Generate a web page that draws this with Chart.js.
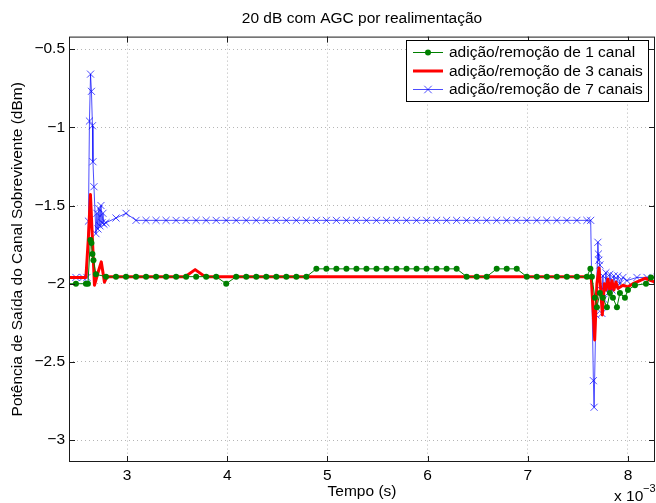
<!DOCTYPE html>
<html>
<head>
<meta charset="utf-8">
<script src="https://cdn.jsdelivr.net/npm/chart.js@4.4.1/dist/chart.umd.min.js"></script>
<style>
  html, body { margin: 0; padding: 0; background: #fff; }
  #wrap { width: 656px; height: 503px; }
</style>
</head>
<body>
<div id="wrap"><canvas id="myChart" width="656" height="503"></canvas></div>
<script>
// tick values (x in units of 1e-3 s)
var xTicks = [3, 4, 5, 6, 7, 8];
var yTicks = [-3, -2.5, -2, -1.5, -1, -0.5];

var seriesLabels = ['adição/remoção de 1 canal', 'adição/remoção de 3 canais', 'adição/remoção de 7 canais'];

// 1 canal
var greenTime = [2.39, 2.49, 2.59, 2.61, 2.635, 2.645, 2.655, 2.665, 2.69, 2.79,
    2.89, 2.99, 3.09, 3.19, 3.29, 3.39, 3.49, 3.59, 3.69, 3.79, 3.89,
    3.99,
    4.09, 4.19, 4.29, 4.39, 4.49, 4.59, 4.69, 4.79,
    4.89, 4.99, 5.09, 5.19, 5.29, 5.39, 5.49, 5.59, 5.69, 5.79, 5.89, 5.99, 6.09, 6.19, 6.29,
    6.39, 6.49, 6.59,
    6.69, 6.79, 6.89,
    6.99, 7.09, 7.19, 7.29, 7.39, 7.49, 7.59,
    7.625, 7.64, 7.67, 7.69, 7.72, 7.75, 7.79, 7.82, 7.85, 7.89, 7.92, 7.97, 8.00, 8.07, 8.18, 8.23, 8.33];
var greenPower = [-2.0, -2.0, -2.0, -2.0, -1.72, -1.74, -1.81, -1.85, -1.94, -1.955,
    -1.955, -1.955, -1.955, -1.955, -1.955, -1.955, -1.955, -1.955, -1.955, -1.955, -1.955,
    -2.0,
    -1.955, -1.955, -1.955, -1.955, -1.955, -1.955, -1.955, -1.955,
    -1.905, -1.905, -1.905, -1.905, -1.905, -1.905, -1.905, -1.905, -1.905, -1.905, -1.905, -1.905, -1.905, -1.905, -1.905,
    -1.955, -1.955, -1.955,
    -1.905, -1.905, -1.905,
    -1.955, -1.955, -1.955, -1.955, -1.955, -1.955, -1.955,
    -1.905, -1.955, -2.09, -2.15, -2.06, -2.09, -2.15, -2.06, -2.09, -2.15, -2.06, -2.09, -2.04, -2.01, -2.0, -1.96, -1.96];

// 3 canais
var redTime = [2.39, 2.59, 2.615, 2.635, 2.655, 2.675, 2.71, 2.743, 2.775, 2.80,
    3.58, 3.68, 3.78,
    7.61, 7.635, 7.668, 7.69, 7.711, 7.73, 7.744, 7.765, 7.78, 7.80, 7.82, 7.84, 7.86, 7.88, 7.90,
    7.95, 8.00, 8.05, 8.12, 8.17, 8.27, 8.35];
var redPower = [-1.96, -1.96, -1.7, -1.43, -1.72, -2.01, -1.93, -1.86, -1.99, -1.955,
    -1.955, -1.91, -1.955,
    -1.955, -1.97, -2.36, -2.0, -1.90, -2.05, -2.2, -2.0, -2.04, -1.97, -2.05, -1.98, -2.04, -1.99, -2.03,
    -2.01, -2.02, -2.0, -1.98, -1.965, -1.99, -2.0];

// 7 canais
var blueTime = [2.39, 2.49, 2.56, 2.60, 2.615, 2.625, 2.636, 2.645, 2.655, 2.66, 2.67,
    2.69, 2.70, 2.71, 2.72, 2.73, 2.74, 2.75, 2.76, 2.77, 2.79, 2.89, 2.99,
    3.09, 3.19, 3.29, 3.39, 3.49, 3.59, 3.69, 3.79, 3.89, 3.99,
    4.09, 4.19, 4.29, 4.39, 4.49, 4.59, 4.69, 4.79, 4.89, 4.99,
    5.09, 5.19, 5.29, 5.39, 5.49, 5.59, 5.69, 5.79, 5.89, 5.99,
    6.09, 6.19, 6.29, 6.39, 6.49, 6.59, 6.69, 6.79, 6.89, 6.99,
    7.09, 7.19, 7.29, 7.39, 7.49, 7.59, 7.628,
    7.655, 7.662, 7.68, 7.70, 7.705, 7.71, 7.72, 7.73, 7.74, 7.75, 7.76, 7.78, 7.80,
    7.82, 7.84, 7.86, 7.88, 7.90, 7.92, 7.95, 7.99, 8.09, 8.19, 8.29];
var bluePower = [-1.96, -1.96, -1.96, -1.96, -1.6, -0.96, -0.66, -0.77, -0.99, -1.22, -1.38,
    -1.68, -1.55, -1.65, -1.52, -1.63, -1.5, -1.61, -1.55, -1.62, -1.61, -1.58, -1.55,
    -1.595, -1.595, -1.595, -1.595, -1.595, -1.595, -1.595, -1.595, -1.595, -1.595,
    -1.595, -1.595, -1.595, -1.595, -1.595, -1.595, -1.595, -1.595, -1.595, -1.595,
    -1.595, -1.595, -1.595, -1.595, -1.595, -1.595, -1.595, -1.595, -1.595, -1.595,
    -1.595, -1.595, -1.595, -1.595, -1.595, -1.595, -1.595, -1.595, -1.595, -1.595,
    -1.595, -1.595, -1.595, -1.595, -1.595, -1.595, -1.595,
    -2.62, -2.79, -2.2, -1.735, -1.81, -1.85, -1.88, -2.04, -2.19, -1.95, -2.1, -1.93, -2.06,
    -1.94, -2.04, -1.95, -2.02, -1.95, -2.0, -1.96, -1.98, -1.96, -1.96, -1.96];

function pts(t, v) {
    return t.map(function (x, i) { return { x: x, y: v[i] }; });
}

function minusFmt(v) {
    return (v < 0 ? '\u2212' : '') + Math.abs(v);
}

var FONT = '"Liberation Sans", Arial, Helvetica, sans-serif';
var FS = 15.5;
Chart.defaults.font.family = FONT;
Chart.defaults.font.size = FS;
Chart.defaults.color = '#000';

// box, inward ticks, legend and the exponent label
var matlabFrame = {
    id: 'matlabFrame',
    afterDraw: function (chart) {
        var ctx = chart.ctx, a = chart.chartArea;
        var xs = chart.scales.x, ys = chart.scales.y;
        ctx.save();
        ctx.strokeStyle = '#1a1a1a';
        ctx.lineWidth = 1;
        ctx.strokeRect(a.left + 0.5, a.top + 0.5, a.right - a.left - 1, a.bottom - a.top - 1);
        ctx.beginPath();
        xTicks.forEach(function (v) {
            var px = Math.round(xs.getPixelForValue(v)) + 0.5;
            ctx.moveTo(px, a.bottom); ctx.lineTo(px, a.bottom - 6);
            ctx.moveTo(px, a.top); ctx.lineTo(px, a.top + 6);
        });
        yTicks.forEach(function (v) {
            var py = Math.round(ys.getPixelForValue(v)) + 0.5;
            ctx.moveTo(a.left, py); ctx.lineTo(a.left + 6, py);
            ctx.moveTo(a.right, py); ctx.lineTo(a.right - 6, py);
        });
        ctx.stroke();

        // legend
        var lx = 406.5, ly = 40.5, lw = 242, lh = 61;
        ctx.fillStyle = '#fff';
        ctx.fillRect(lx, ly, lw, lh);
        ctx.strokeStyle = '#000';
        ctx.strokeRect(lx, ly, lw, lh);
        var rows = [52.5, 71, 89.5];
        chart.data.datasets.forEach(function (ds, i) {
            var ry = rows[i];
            ctx.strokeStyle = ds.borderColor;
            ctx.lineWidth = ds.borderWidth;
            ctx.beginPath();
            ctx.moveTo(413, ry); ctx.lineTo(443, ry);
            ctx.stroke();
            if (ds.pointStyle === 'circle') {
                ctx.fillStyle = ds.pointBackgroundColor;
                ctx.beginPath();
                ctx.arc(428, ry, ds.pointRadius, 0, Math.PI * 2);
                ctx.fill();
            } else if (ds.pointStyle === 'crossRot') {
                var r = ds.pointRadius * 0.75;
                ctx.lineWidth = 1;
                ctx.beginPath();
                ctx.moveTo(428 - r, ry - r); ctx.lineTo(428 + r, ry + r);
                ctx.moveTo(428 - r, ry + r); ctx.lineTo(428 + r, ry - r);
                ctx.stroke();
            }
            ctx.fillStyle = '#000';
            ctx.font = FS + 'px ' + FONT;
            ctx.textAlign = 'left';
            ctx.textBaseline = 'middle';
            ctx.fillText(ds.label, 449, ry + 0.5);
        });

        // x 10^-3
        ctx.fillStyle = '#000';
        ctx.font = FS + 'px ' + FONT;
        ctx.textBaseline = 'middle';
        ctx.fillText('x 10', 614, 497);
        ctx.font = '11px ' + FONT;
        ctx.fillText('\u22123', 643, 489);
        ctx.restore();
    }
};

var ctx = document.getElementById('myChart').getContext('2d');
var myChart = new Chart(ctx, {
    type: 'line',
    data: {
        datasets: [{
            label: seriesLabels[0],
            data: pts(greenTime, greenPower),
            borderColor: '#008000',
            backgroundColor: '#008000',
            pointBackgroundColor: '#008000',
            pointBorderColor: '#008000',
            borderWidth: 1,
            pointStyle: 'circle',
            pointRadius: 3,
            pointBorderWidth: 0,
            tension: 0,
            order: 0
        }, {
            label: seriesLabels[1],
            data: pts(redTime, redPower),
            borderColor: '#ff0000',
            backgroundColor: '#ff0000',
            borderWidth: 3,
            borderJoinStyle: 'round',
            pointRadius: 0,
            tension: 0,
            order: 1
        }, {
            label: seriesLabels[2],
            data: pts(blueTime, bluePower),
            borderColor: 'rgba(0,0,255,0.7)',
            backgroundColor: 'rgba(0,0,255,0.7)',
            pointBorderColor: 'rgba(0,0,255,0.7)',
            borderWidth: 1,
            pointStyle: 'crossRot',
            pointRadius: 5,
            pointBorderWidth: 1,
            tension: 0,
            order: 2
        }]
    },
    options: {
        responsive: false,
        animation: false,
        events: [],
        layout: { autoPadding: false, padding: { left: 0, right: 1, top: 0, bottom: 0 } },
        plugins: {
            legend: { display: false },
            tooltip: { enabled: false },
            title: {
                display: true,
                fullSize: false,
                text: '20 dB com AGC por realimentação',
                font: { size: FS, weight: 'normal' },
                padding: { top: 9, bottom: 9 }
            }
        },
        scales: {
            x: {
                type: 'linear',
                min: 2.421,
                max: 8.27,
                afterBuildTicks: function (s) { s.ticks = xTicks.map(function (v) { return { value: v }; }); },
                afterFit: function (s) { s.height = 41; },
                ticks: {
                    padding: 4,
                    maxRotation: 0,
                    callback: function (v) { return String(v); }
                },
                grid: { color: '#b5b5b5', lineWidth: 1, drawTicks: false },
                border: { display: false, dash: [1, 3] },
                title: {
                    display: true,
                    text: 'Tempo (s)',
                    font: { size: FS },
                    padding: { top: 0, bottom: 2 }
                }
            },
            y: {
                type: 'linear',
                min: -3.14,
                max: -0.42,
                afterBuildTicks: function (s) { s.ticks = yTicks.map(function (v) { return { value: v }; }); },
                afterFit: function (s) { s.width = 69; },
                ticks: {
                    padding: 4,
                    callback: function (v) { return minusFmt(v); }
                },
                grid: { color: '#b5b5b5', lineWidth: 1, drawTicks: false },
                border: { display: false, dash: [1, 3] },
                title: {
                    display: true,
                    text: 'Potência de Saída do Canal Sobrevivente (dBm)',
                    font: { size: FS },
                    padding: { top: 8, bottom: 0 }
                }
            }
        }
    },
    plugins: [matlabFrame]
});
</script>
</body>
</html>
